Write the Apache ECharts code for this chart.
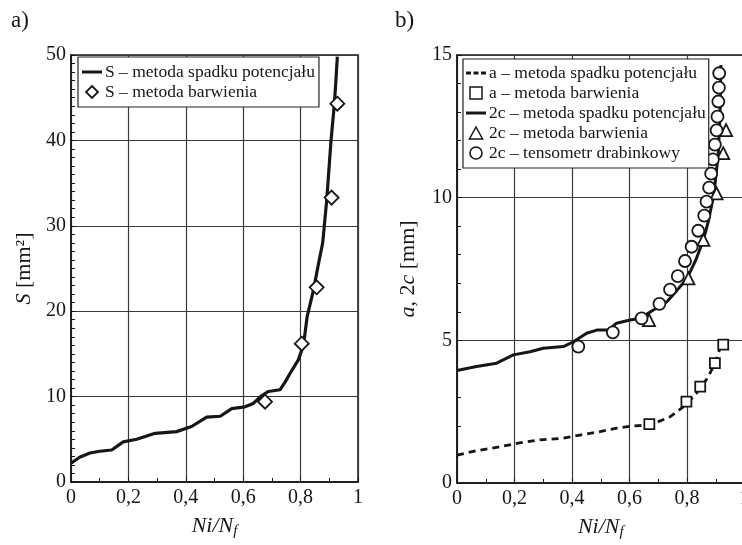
<!DOCTYPE html>
<html>
<head>
<meta charset="utf-8">
<script src="https://cdn.jsdelivr.net/npm/echarts@6/dist/echarts.min.js"></script>
<style>
  html, body { margin: 0; padding: 0; background: #fff; }
  #chart { width: 742px; height: 545px; }
</style>
</head>
<body>
<div id="chart"></div>
<script>
// Panel a) - crack surface S versus life fraction Ni/Nf
const sPotX = [0, 0.03, 0.066, 0.1, 0.142, 0.182, 0.229, 0.293, 0.368, 0.42, 0.473, 0.52, 0.56, 0.606, 0.635, 0.664, 0.688, 0.728, 0.746, 0.763, 0.792, 0.81, 0.823, 0.845, 0.862, 0.877, 0.891, 0.906, 0.917, 0.923, 0.928];
const sPotY = [2.2, 2.9, 3.4, 3.6, 3.75, 4.7, 5.0, 5.7, 5.9, 6.5, 7.6, 7.7, 8.6, 8.8, 9.2, 10.1, 10.6, 10.8, 11.7, 12.7, 14.3, 16.0, 19.4, 22.5, 25.5, 28.0, 33.0, 40.0, 44.0, 47.0, 49.8];
const sDyeX = [0.676, 0.804, 0.856, 0.908, 0.928];
const sDyeY = [9.4, 16.2, 22.8, 33.3, 44.3];

// Panel b) - crack depth a and surface length 2c versus Ni/Nf
const aPotX = [0, 0.068, 0.15, 0.208, 0.289, 0.37, 0.428, 0.497, 0.555, 0.613, 0.671, 0.741, 0.787, 0.82, 0.85, 0.875, 0.9, 0.915];
const aPotY = [0.98, 1.13, 1.27, 1.39, 1.51, 1.57, 1.68, 1.80, 1.92, 2.0, 2.03, 2.32, 2.67, 3.0, 3.35, 3.75, 4.25, 4.73];
const aDyeX = [0.669, 0.798, 0.846, 0.897, 0.926];
const aDyeY = [2.06, 2.85, 3.38, 4.2, 4.85];
const cPotX = [0, 0.068, 0.138, 0.196, 0.254, 0.30, 0.37, 0.405, 0.451, 0.486, 0.526, 0.555, 0.602, 0.637, 0.683, 0.73, 0.765, 0.8, 0.83, 0.857, 0.875, 0.894, 0.909, 0.915, 0.918];
const cPotY = [3.94, 4.08, 4.2, 4.49, 4.6, 4.72, 4.78, 4.95, 5.25, 5.36, 5.36, 5.6, 5.71, 5.77, 6.06, 6.35, 6.75, 7.17, 7.8, 8.52, 9.2, 10.15, 11.56, 13.0, 14.65];
const cDyeX = [0.668, 0.805, 0.857, 0.903, 0.926, 0.936];
const cDyeY = [5.71, 7.17, 8.52, 10.15, 11.56, 12.37];
const cGaugeX = [0.422, 0.542, 0.642, 0.704, 0.741, 0.768, 0.793, 0.816, 0.839, 0.86, 0.868, 0.877, 0.884, 0.89, 0.897, 0.903, 0.906, 0.909, 0.911, 0.912];
const cGaugeY = [4.78, 5.28, 5.77, 6.28, 6.78, 7.25, 7.78, 8.28, 8.84, 9.37, 9.86, 10.35, 10.84, 11.34, 11.86, 12.36, 12.84, 13.37, 13.86, 14.36];

const xTicks = [0, 0.2, 0.4, 0.6, 0.8, 1];
const leftYTicks = [0, 10, 20, 30, 40, 50];
const rightYTicks = [0, 5, 10, 15];

const names = {
  sPot: 'S – metoda spadku potencjału',
  sDye: 'S – metoda barwienia',
  aPot: 'a – metoda spadku potencjału',
  aDye: 'a – metoda barwienia',
  cPot: '2c – metoda spadku potencjału',
  cDye: '2c – metoda barwienia',
  cGauge: '2c – tensometr drabinkowy'
};

const pairs = (xs, ys) => xs.map((x, i) => [x, ys[i]]);
const FONT = '"Liberation Serif", "DejaVu Serif", serif';
const INK = '#161616';
const GRIDC = '#3a3a3a';
const commaFmt = v => String(v).replace('.', ',');

// legend glyphs as paths so that they keep their own proportions
const SOLID_ICON = 'path://M0,0h20v3h-20z';
const DASH_ICON = 'path://M0,0h5v3h-5zM7.5,0h5v3h-5zM15,0h5v3h-5z';
const DIAMOND_ICON = 'path://M6.5,0L13,6.5L6.5,13L0,6.5Z';
const SQUARE_ICON = 'path://M0,0h9v9h-9z';
const TRIANGLE_ICON = 'path://M5.5,0L11,10L0,10Z';

function xAxis(gridIndex) {
  return {
    type: 'value', gridIndex, min: 0, max: 1, interval: 0.2,
    axisLine: { show: true, lineStyle: { color: INK, width: 1.5 } },
    axisTick: { show: true, inside: true, length: 5, lineStyle: { color: INK } },
    minorTick: { show: true, splitNumber: 2, length: 4, lineStyle: { color: INK } },
    splitLine: { show: true, lineStyle: { color: GRIDC, width: 1.2 } },
    axisLabel: { formatter: commaFmt, color: INK, fontFamily: FONT, fontSize: 20, margin: 6,
      customValues: xTicks },
    name: '{i|Ni}{n|/}{i|N}{s|f}',
    nameLocation: 'middle', nameGap: 32,
    nameTextStyle: {
      rich: {
        i: { fontFamily: FONT, fontStyle: 'italic', fontSize: 22, color: INK },
        n: { fontFamily: FONT, fontStyle: 'italic', fontSize: 22, color: INK },
        s: { fontFamily: FONT, fontStyle: 'italic', fontSize: 15, color: INK, padding: [10, 0, 0, 0] }
      }
    }
  };
}

function yAxis(gridIndex, max, interval, minorSplit, name, gap, ticks) {
  return {
    type: 'value', gridIndex, min: 0, max, interval,
    axisLine: { show: true, lineStyle: { color: INK, width: 1.5 } },
    axisTick: { show: true, inside: true, length: 5, lineStyle: { color: INK } },
    minorTick: { show: true, splitNumber: minorSplit, length: 4, lineStyle: { color: INK } },
    splitLine: { show: true, lineStyle: { color: GRIDC, width: 1.2 } },
    axisLabel: { color: INK, fontFamily: FONT, fontSize: 20, margin: 5, customValues: ticks },
    name, nameLocation: 'middle', nameGap: gap,
    nameTextStyle: {
      rich: {
        i: { fontFamily: FONT, fontStyle: 'italic', fontSize: 22, color: INK },
        r: { fontFamily: FONT, fontSize: 22, color: INK }
      }
    }
  };
}

const lineSeries = (name, xi, data, dashed, width) => ({
  name, type: 'line', xAxisIndex: xi, yAxisIndex: xi, data, symbol: 'none',
  lineStyle: { color: INK, width, type: dashed ? [7, 5] : 'solid' },
  itemStyle: { color: INK }, z: 2, animation: false
});
const markerSeries = (name, xi, data, symbol, size) => ({
  name, type: 'scatter', xAxisIndex: xi, yAxisIndex: xi, data, symbol, symbolSize: size,
  itemStyle: { color: '#fff', borderColor: INK, borderWidth: 1.8, opacity: 1 }, z: 3, animation: false
});

const legendBase = {
  orient: 'vertical', backgroundColor: '#fff', borderColor: '#222', borderWidth: 1.2,
  itemWidth: 20, itemHeight: 12, itemGap: 1, selectedMode: false,
  textStyle: { fontFamily: FONT, fontSize: 17.5, color: INK, padding: [0, 0, 0, -2] }
};

const chart = echarts.init(document.getElementById('chart'), null, { renderer: 'canvas' });
chart.setOption({
  backgroundColor: '#fff',
  animation: false,
  title: [
    { text: 'a)', left: 6, top: 4, textStyle: { fontFamily: FONT, fontSize: 23, fontWeight: 'normal', color: INK } },
    { text: 'b)', left: 390, top: 4, textStyle: { fontFamily: FONT, fontSize: 23, fontWeight: 'normal', color: INK } }
  ],
  grid: [
    { left: 71, top: 55, width: 287, height: 427, show: true, borderColor: INK, borderWidth: 1.5,
      backgroundColor: 'transparent', outerBoundsMode: 'none', containLabel: false },
    { left: 457, top: 55, width: 287.5, height: 428, show: true, borderColor: INK, borderWidth: 1.5,
      backgroundColor: 'transparent', outerBoundsMode: 'none', containLabel: false }
  ],
  xAxis: [xAxis(0), xAxis(1)],
  yAxis: [
    yAxis(0, 50, 10, 10, '{i|S}{r| [mm²]}', 36, leftYTicks),
    yAxis(1, 15, 5, 5, '{i|a}{r|, 2}{i|c}{r| [mm]}', 38, rightYTicks)
  ],
  legend: [
    Object.assign({}, legendBase, {
      left: 78, top: 57, padding: [6, 4, 6, 4], itemGap: 2,
      data: [
        { name: names.sPot, icon: SOLID_ICON },
        { name: names.sDye, icon: DIAMOND_ICON, itemStyle: { borderWidth: 1.8 } }
      ]
    }),
    Object.assign({}, legendBase, {
      left: 463, top: 59, padding: [5, 3, 6, 3], itemGap: 2,
      data: [
        { name: names.aPot, icon: DASH_ICON },
        { name: names.aDye, icon: SQUARE_ICON, itemStyle: { borderWidth: 1.5 } },
        { name: names.cPot, icon: SOLID_ICON },
        { name: names.cDye, icon: TRIANGLE_ICON, itemStyle: { borderWidth: 1.5 } },
        { name: names.cGauge, icon: 'circle', itemStyle: { borderWidth: 1.6 } }
      ]
    })
  ],
  series: [
    lineSeries(names.sPot, 0, pairs(sPotX, sPotY), false, 3.2),
    markerSeries(names.sDye, 0, pairs(sDyeX, sDyeY), 'diamond', 14),
    lineSeries(names.aPot, 1, pairs(aPotX, aPotY), true, 2.8),
    markerSeries(names.aDye, 1, pairs(aDyeX, aDyeY), 'rect', 10),
    lineSeries(names.cPot, 1, pairs(cPotX, cPotY), false, 3),
    markerSeries(names.cDye, 1, pairs(cDyeX, cDyeY), 'triangle', 12),
    markerSeries(names.cGauge, 1, pairs(cGaugeX, cGaugeY), 'circle', 12)
  ]
});
</script>
</body>
</html>
